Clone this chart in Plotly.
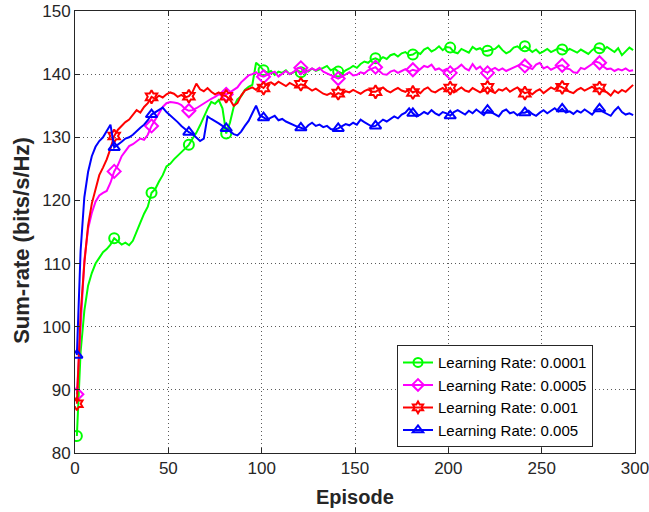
import plotly.graph_objects as go

episodes = list(range(1, 301, 2))

lr_0001 = [82.7, 96.0, 102.5, 106.5, 108.5, 110.0, 110.9, 111.8, 112.3, 113.0,
           114.0, 113.5, 113.0, 113.3, 112.9, 113.6, 115.2, 116.5, 117.9, 119.0,
           121.2, 121.8, 123.0, 124.0, 125.4, 125.8, 126.5, 127.1, 127.6, 128.2,
           128.8, 129.8, 130.7, 131.9, 133.3, 134.5, 135.6, 135.3, 135.9, 134.6,
           130.6, 132.3, 134.8, 136.0, 136.5, 137.5, 138.0, 138.3, 141.8, 141.3,
           140.6, 140.2, 140.5, 139.9, 140.4, 140.2, 140.6, 140.0, 140.3, 140.6,
           140.3, 140.8, 140.4, 140.9, 140.5, 140.7, 141.0, 141.3, 140.6, 140.9,
           140.4, 140.1, 140.6, 140.9, 141.3, 141.0, 141.6, 142.0, 141.8, 142.3,
           142.5, 142.2, 142.7, 142.4, 143.0, 143.2, 142.8, 143.3, 143.5, 143.0,
           143.1, 143.5, 143.2, 143.9, 144.2, 143.6, 143.9, 144.4, 143.8, 144.3,
           144.2, 143.5, 143.3, 144.0, 143.7, 143.4, 144.3, 143.9, 144.1, 143.6,
           143.7, 143.9, 144.0, 144.5, 143.8, 143.3, 143.6, 144.2, 144.4, 143.9,
           144.4, 144.0, 143.5, 143.9, 143.3, 143.6, 144.0, 143.5, 143.8, 144.1,
           143.9, 143.6, 144.0, 143.7, 143.4, 143.9, 143.5, 143.2, 143.8, 144.2,
           144.1, 143.8, 144.3, 143.9, 143.5, 144.1, 143.0, 143.6, 144.2, 143.8]

lr_0005 = [89.3, 101.0, 110.5, 115.5, 118.0, 119.8, 120.8, 121.2, 121.5, 122.8,
           124.6, 125.6, 127.0, 127.8, 128.6, 128.9, 129.3, 129.8, 129.6, 130.4,
           131.8, 132.8, 134.0, 134.8, 135.4, 135.6, 135.5, 135.4, 135.1, 134.5,
           134.2, 134.3, 134.6, 135.0, 135.4, 135.8, 136.1, 136.4, 136.8, 136.9,
           136.8, 137.1, 137.5, 137.9, 138.7, 139.3, 139.8, 140.0, 140.3, 139.8,
           139.6, 139.9, 140.1, 140.4, 139.6, 140.1, 140.5, 140.0, 140.3, 140.9,
           141.0, 140.2, 140.5, 140.9, 140.6, 141.0, 140.4, 140.1, 139.8, 139.5,
           139.3, 139.6, 140.0, 140.3, 139.8, 139.9, 140.3, 140.1, 140.6, 140.9,
           141.1, 140.5, 140.0, 139.9, 140.4, 140.6, 140.2, 140.5, 140.8, 140.4,
           140.7, 140.5, 140.8, 141.3, 141.1, 141.5, 140.7, 140.9, 140.5, 140.8,
           140.2, 140.7, 141.0, 141.5, 140.9, 140.6, 141.6, 140.8, 141.2, 140.5,
           140.2, 140.7, 141.0, 140.6, 140.9, 140.5, 140.8, 141.0, 141.4, 141.6,
           141.3, 141.0, 140.8, 141.5, 141.8, 140.9, 141.2, 140.7, 141.0, 141.3,
           141.4, 140.9, 140.8, 140.3, 140.2, 141.0, 140.8, 141.2, 141.6, 142.0,
           141.8, 141.2, 140.8, 140.9, 140.5, 140.8, 140.6, 140.9, 140.5, 140.6]

lr_001 = [87.8, 102.0, 110.0, 116.0, 119.5, 122.0, 124.0, 125.2, 126.5, 128.2,
          130.2, 131.2, 131.8, 132.4, 132.8, 133.5, 134.3, 133.9, 134.8, 135.4,
          136.4, 136.1, 136.6, 136.3, 136.8, 137.1, 136.9, 136.4, 136.7, 136.3,
          136.5, 137.2, 138.5, 137.6, 137.3, 137.8, 137.2, 136.8, 137.1, 136.7,
          136.5, 136.0, 135.0, 135.4, 136.6, 137.4, 137.6, 137.9, 137.5, 138.2,
          137.8, 138.5, 138.7, 138.3, 138.8, 138.4, 138.1, 138.6, 138.3, 138.0,
          138.4, 138.2, 137.8, 137.4, 137.7, 137.3, 136.9, 136.7, 137.0, 136.6,
          137.0, 136.8, 137.3, 137.1, 137.5, 137.2, 136.9, 137.3, 137.6, 137.2,
          137.2, 137.6, 137.9, 137.4, 137.1, 137.5, 137.8, 137.4, 137.2, 137.6,
          137.1, 137.4, 137.0, 137.6, 137.9, 137.3, 137.1, 137.5, 137.8, 137.3,
          137.8, 137.1, 137.5, 137.9, 137.4, 137.2, 137.8, 137.5, 137.1, 137.4,
          137.9, 137.3, 137.0, 137.6, 137.4, 137.8, 137.2, 137.6, 137.9, 137.4,
          137.0, 137.2, 136.8, 137.3, 137.6, 137.0, 137.4, 137.9, 137.6, 138.2,
          137.9, 137.5, 137.2, 137.0, 137.5, 137.8, 137.4, 137.7, 138.0, 137.6,
          137.8, 137.4, 137.1, 136.6, 137.4, 137.0, 137.5, 137.2, 137.8, 138.3]

lr_005 = [95.5, 112.0, 120.5, 124.5, 127.0, 128.5, 129.4, 130.0, 131.0, 132.0,
          128.4, 128.8, 129.3, 129.8, 130.0, 130.4, 131.0, 131.5, 132.0, 132.7,
          133.6, 134.0, 134.4, 134.7, 134.0, 133.5, 133.0, 132.4, 131.8, 131.3,
          130.8, 130.5, 130.0, 129.4, 129.8, 133.3, 132.9, 132.6, 132.2, 131.8,
          131.4, 131.0, 130.5, 130.3, 130.9, 131.8, 132.6, 133.8, 135.0, 133.5,
          133.1, 132.8, 133.1, 133.4, 132.7, 132.9, 132.5, 132.2, 131.9, 131.7,
          131.5, 131.3, 131.9, 132.3, 131.8, 132.0, 131.6, 131.8, 131.3, 131.2,
          131.4, 131.8, 132.1, 131.9, 132.3, 132.0, 132.8, 132.4, 132.0, 131.7,
          131.8, 132.3, 132.8, 132.5, 132.9, 133.3, 133.0, 133.6, 133.9, 134.6,
          133.8, 133.3, 133.6, 134.0, 133.7, 134.3, 133.8, 133.5, 134.0, 133.8,
          133.4, 134.0, 134.3, 133.9, 133.6, 134.2, 133.8, 134.4, 133.9, 133.5,
          134.3, 134.0, 133.6, 133.3, 134.1, 134.4, 133.8, 134.0, 133.5, 133.9,
          133.9, 134.2, 133.7, 133.4, 133.9, 134.3, 133.8, 134.2, 134.6, 134.1,
          134.5, 133.9, 134.1, 133.7, 134.2, 133.9, 134.4, 134.0, 133.6, 134.3,
          134.5, 134.0, 133.7, 133.4, 134.2, 134.8, 134.0, 133.6, 133.8, 133.5]

x_ticks = [0, 50, 100, 150, 200, 250, 300]
y_ticks = [80, 90, 100, 110, 120, 130, 140, 150]

series_names = ["Learning Rate: 0.0001", "Learning Rate: 0.0005",
                "Learning Rate: 0.001", "Learning Rate: 0.005"]
series_values = [lr_0001, lr_0005, lr_001, lr_005]
colors = ["#00ff00", "#ff00ff", "#ff0000", "#0000ff"]
symbols = ["circle-open", "diamond-open", "hexagram-open", "triangle-up-open"]
marker_step = 10

FONT = "Liberation Sans, Arial, Helvetica, sans-serif"
TXT = "#262626"

fig = go.Figure()
for name, vals, col, sym in zip(series_names, series_values, colors, symbols):
    fig.add_trace(go.Scatter(x=episodes, y=vals, mode="lines",
                             line=dict(color=col, width=2), showlegend=False,
                             hoverinfo="skip"))
    fig.add_trace(go.Scatter(x=episodes[::marker_step], y=vals[::marker_step],
                             mode="markers", showlegend=False,
                             marker=dict(symbol=sym, size=10, color=col,
                                         line=dict(color=col, width=2))))
    fig.add_trace(go.Scatter(x=[None], y=[None], mode="lines+markers", name=name,
                             line=dict(color=col, width=2),
                             marker=dict(symbol=sym, size=9, color=col,
                                         line=dict(color=col, width=2))))

axis_common = dict(
    showline=True, linecolor=TXT, linewidth=1, mirror="ticks",
    ticks="inside", ticklen=5, tickcolor=TXT,
    showgrid=True, gridcolor="#5a5a5a", griddash="1px,3px", gridwidth=1,
    zeroline=False, automargin=False,
    tickfont=dict(family=FONT, size=17, color=TXT),
)

fig.update_xaxes(range=[0, 300], tickvals=x_ticks, **axis_common)
fig.update_yaxes(range=[80, 150], tickvals=y_ticks, **axis_common)

fig.add_annotation(text="<b>Episode</b>", xref="paper", yref="paper",
                   x=0.5, y=-0.0995, xanchor="center", yanchor="middle",
                   showarrow=False, font=dict(family=FONT, size=20, color=TXT))
fig.add_annotation(text="<b>Sum-rate (bits/s/Hz)</b>", xref="paper", yref="paper",
                   x=-0.0946, y=0.48, xanchor="center", yanchor="middle",
                   textangle=-90, showarrow=False,
                   font=dict(family=FONT, size=22, color=TXT))

# figure is slightly wider than the window so the "300" tick label is kept;
# the visible plot area still spans x 75..635 of the 649 px window
fig.update_layout(
    width=665, height=512,
    margin=dict(l=75, r=30, t=11, b=59),
    paper_bgcolor="white", plot_bgcolor="white",
    legend=dict(x=0.575, y=0.244, xanchor="left", yanchor="top",
                bgcolor="white", bordercolor=TXT, borderwidth=1,
                font=dict(family=FONT, size=15, color="black"),
                tracegroupgap=0),
)

fig.write_html("out.html",
               config={"displayModeBar": False},
               post_script="document.body.style.margin='0';"
                           "document.body.style.overflow='hidden';")
